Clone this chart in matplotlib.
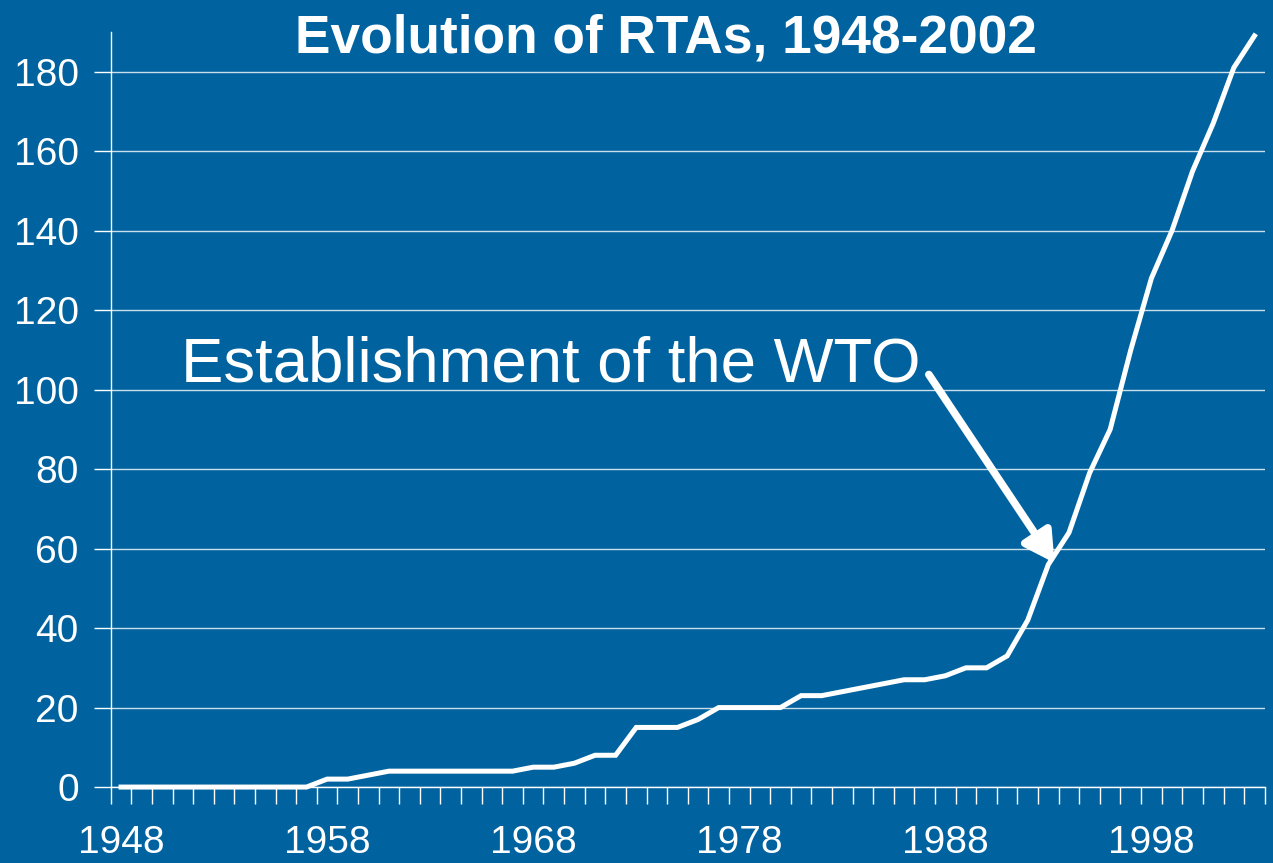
import matplotlib
matplotlib.use("Agg")
import matplotlib.pyplot as plt

# cumulative number of RTAs in force, one value per year
years = list(range(1948, 2004))
rtas = [0, 0, 0, 0, 0, 0, 0, 0, 0, 0,      # 1948-1957
        2, 2, 3, 4, 4, 4, 4, 4, 4, 4,      # 1958-1967
        5, 5, 6, 8, 8, 15, 15, 15, 17, 20, # 1968-1977
        20, 20, 20, 23, 23, 24, 25, 26, 27, 27,  # 1978-1987
        28, 30, 30, 33, 42, 56, 64, 79, 90, 110, # 1988-1997
        128, 140, 155, 167, 181, 189]            # 1998-2003
label_years = [1948, 1958, 1968, 1978, 1988, 1998]

title = "Evolution of RTAs, 1948-2002"
note = "Establishment of the WTO"
note_year = 1987.2
note_val = 103.8
wto_year = 1993.3
wto_val = 56.4

bg = "#0063A0"
plt.rcParams['font.family'] = ['Liberation Sans', 'DejaVu Sans']

fig = plt.figure(figsize=(12.73, 8.63), dpi=100, facecolor=bg)
ax = fig.add_axes([0.087, 0.088, 0.9065, 0.875])
ax.set_facecolor(bg)

x = [y - years[0] for y in years]
ax.plot(x, rtas, color="white", lw=3.6, solid_joinstyle="miter", clip_on=False, zorder=3)

ax.set_xlim(-0.5, len(years) - 0.5)
ax.set_ylim(0, 190)

# category boundaries carry the tick marks, labels sit on the category centres
ax.set_xticks([i - 0.5 for i in range(len(years) + 1)])
ax.set_xticklabels([])
ax.set_xticks([y - years[0] for y in label_years], minor=True)
ax.set_xticklabels([str(y) for y in label_years], minor=True)
ax.tick_params(axis="x", which="major", length=12, width=1, color="white", direction="out")
ax.tick_params(axis="x", which="minor", length=0, pad=27, labelsize=28, labelcolor="white")

ax.set_yticks(range(0, 181, 20))
ax.tick_params(axis="y", length=12, width=1, color="white", labelsize=28, labelcolor="white", pad=11)
ax.yaxis.grid(True, color="white", lw=1, alpha=0.8)
ax.set_axisbelow(True)

for s in ["top", "right"]:
    ax.spines[s].set_visible(False)
for s in ["left", "bottom"]:
    ax.spines[s].set_color("white")
    ax.spines[s].set_linewidth(1)

fig.text(0.523, 0.955, title, color="white", fontsize=38.3, fontweight="bold", ha="center", va="center")

ax.text(2.9, 102, note, color="white", fontsize=45.7, ha="left", va="baseline")
ax.annotate("", xy=(wto_year - years[0], wto_val), xytext=(note_year - years[0], note_val),
            arrowprops=dict(arrowstyle="-|>,head_length=0.9,head_width=0.5", color="white",
                            lw=5.5, mutation_scale=20, shrinkA=0, shrinkB=0), zorder=4)

fig.savefig("out.png", dpi=100, facecolor=bg)
